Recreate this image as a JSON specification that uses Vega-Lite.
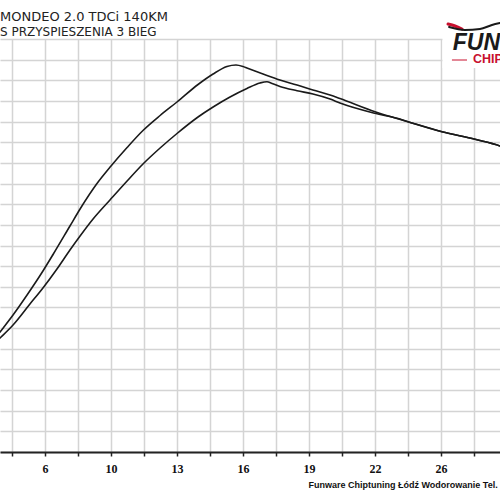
{
  "$schema": "https://vega.github.io/schema/vega-lite/v6.json",
  "width": 500,
  "height": 413,
  "autosize": {"type": "none"},
  "padding": {"left": 0, "top": 39, "right": 0, "bottom": 48},
  "background": "white",
  "config": {"view": {"stroke": null}},
  "title": {
    "text": "MONDEO 2.0 TDCi 140KM",
    "subtitle": "S PRZYSPIESZENIA 3 BIEG",
    "anchor": "start",
    "frame": "group",
    "offset": -20,
    "font": "DejaVu Sans",
    "fontSize": 13,
    "fontWeight": "normal",
    "color": "#222222",
    "subtitleFont": "DejaVu Sans",
    "subtitleFontSize": 12,
    "subtitleColor": "#222222",
    "subtitlePadding": 3
  },
  "datasets": {
    "curves": [
      {"run": "A", "speed": 4.07, "value": 56.17},
      {"run": "A", "speed": 4.22, "value": 58.11},
      {"run": "A", "speed": 4.85, "value": 66.34},
      {"run": "A", "speed": 5.53, "value": 76.03},
      {"run": "A", "speed": 6.30, "value": 87.65},
      {"run": "A", "speed": 6.79, "value": 95.64},
      {"run": "A", "speed": 7.61, "value": 109.44},
      {"run": "A", "speed": 8.10, "value": 117.68},
      {"run": "A", "speed": 8.92, "value": 130.02},
      {"run": "A", "speed": 9.60, "value": 138.50},
      {"run": "A", "speed": 10.38, "value": 147.46},
      {"run": "A", "speed": 11.15, "value": 155.69},
      {"run": "A", "speed": 11.98, "value": 162.95},
      {"run": "A", "speed": 12.80, "value": 169.49},
      {"run": "A", "speed": 13.82, "value": 177.97},
      {"run": "A", "speed": 14.55, "value": 183.05},
      {"run": "A", "speed": 15.22, "value": 186.68},
      {"run": "A", "speed": 15.66, "value": 187.41},
      {"run": "A", "speed": 16.00, "value": 186.68},
      {"run": "A", "speed": 16.19, "value": 185.96},
      {"run": "A", "speed": 16.97, "value": 183.05},
      {"run": "A", "speed": 17.79, "value": 180.14},
      {"run": "A", "speed": 18.62, "value": 177.72},
      {"run": "A", "speed": 19.39, "value": 175.30},
      {"run": "A", "speed": 20.22, "value": 172.88},
      {"run": "A", "speed": 20.70, "value": 171.19},
      {"run": "A", "speed": 22.40, "value": 164.79},
      {"run": "A", "speed": 24.00, "value": 159.95},
      {"run": "A", "speed": 25.65, "value": 155.11},
      {"run": "A", "speed": 27.25, "value": 151.43},
      {"run": "A", "speed": 28.46, "value": 148.18},
      {"run": "A", "speed": 28.70, "value": 147.20},
      {"run": "B", "speed": 4.07, "value": 53.75},
      {"run": "B", "speed": 4.22, "value": 55.21},
      {"run": "B", "speed": 4.85, "value": 61.50},
      {"run": "B", "speed": 5.67, "value": 71.67},
      {"run": "B", "speed": 6.30, "value": 79.42},
      {"run": "B", "speed": 6.98, "value": 88.62},
      {"run": "B", "speed": 7.61, "value": 97.82},
      {"run": "B", "speed": 8.10, "value": 104.60},
      {"run": "B", "speed": 8.73, "value": 112.83},
      {"run": "B", "speed": 9.55, "value": 122.03},
      {"run": "B", "speed": 10.38, "value": 131.23},
      {"run": "B", "speed": 11.15, "value": 139.47},
      {"run": "B", "speed": 11.98, "value": 147.21},
      {"run": "B", "speed": 12.80, "value": 154.24},
      {"run": "B", "speed": 13.82, "value": 162.23},
      {"run": "B", "speed": 14.55, "value": 167.07},
      {"run": "B", "speed": 15.37, "value": 171.91},
      {"run": "B", "speed": 16.19, "value": 176.03},
      {"run": "B", "speed": 16.82, "value": 178.69},
      {"run": "B", "speed": 17.16, "value": 179.32},
      {"run": "B", "speed": 17.41, "value": 178.45},
      {"run": "B", "speed": 17.79, "value": 177.00},
      {"run": "B", "speed": 18.62, "value": 174.96},
      {"run": "B", "speed": 19.39, "value": 173.37},
      {"run": "B", "speed": 20.22, "value": 170.94},
      {"run": "B", "speed": 20.70, "value": 169.01},
      {"run": "B", "speed": 22.40, "value": 164.02},
      {"run": "B", "speed": 23.47, "value": 161.60},
      {"run": "B", "speed": 24.00, "value": 159.95},
      {"run": "B", "speed": 25.65, "value": 155.11},
      {"run": "B", "speed": 27.25, "value": 151.43},
      {"run": "B", "speed": 28.46, "value": 148.18},
      {"run": "B", "speed": 28.70, "value": 147.20}
    ],
    "swoosh": [
      {"part": "red", "speed": 25.94, "value": 207.26},
      {"part": "red", "speed": 26.28, "value": 206.29},
      {"part": "red", "speed": 26.62, "value": 204.84},
      {"part": "black", "speed": 25.99, "value": 205.81},
      {"part": "black", "speed": 26.76, "value": 204.36},
      {"part": "black", "speed": 27.49, "value": 204.84},
      {"part": "black", "speed": 28.07, "value": 206.78},
      {"part": "black", "speed": 28.46, "value": 207.75}
    ]
  },
  "layer": [
    {
      "data": {"name": "curves"},
      "mark": {"type": "line", "interpolate": "monotone", "clip": true, "strokeWidth": 1.6, "color": "#1a1a1a"},
      "encoding": {
        "x": {
          "field": "speed",
          "type": "quantitative",
          "scale": {"domain": [4.218, 28.46], "nice": false, "zero": false},
          "axis": {
            "values": [4.8, 6.4, 8.0, 9.6, 11.2, 12.8, 14.4, 16.0, 17.6, 19.2, 20.8, 22.4, 24.0, 25.6, 27.2],
            "tickCount": 50,
            "grid": true,
            "gridColor": "#d4d4d4",
            "gridWidth": 1.5,
            "domainColor": "#222222",
            "domainWidth": 2,
            "tickColor": "#222222",
            "tickSize": 4,
            "tickWidth": 1.5,
            "labelExpr": "abs((datum.value-6.4)/3.2 - round((datum.value-6.4)/3.2)) < 0.01 ? format(datum.value, '.0f') : ''",
            "labelFont": "Liberation Serif",
            "labelFontWeight": "bold",
            "labelFontSize": 12,
            "labelColor": "#111111",
            "labelPadding": 7,
            "labelDx": 3,
            "labelOverlap": false,
            "labelFlush": false,
            "labelBound": false,
            "title": "Funware Chiptuning Łódź Wodorowanie Tel.",
            "titleX": 308,
            "titleY": 35,
            "titleAlign": "left",
            "titleBaseline": "alphabetic",
            "titleFont": "Liberation Sans",
            "titleFontSize": 9,
            "titleFontWeight": "bold",
            "titleColor": "#111111"
          }
        },
        "y": {
          "field": "value",
          "type": "quantitative",
          "scale": {"domain": [0, 200], "nice": false, "zero": false},
          "axis": {
            "values": [0, 10, 20, 30, 40, 50, 60, 70, 80, 90, 100, 110, 120, 130, 140, 150, 160, 170, 180, 190, 200],
            "tickCount": 50,
            "grid": true,
            "gridColor": "#d4d4d4",
            "gridWidth": 1.5,
            "labels": false,
            "ticks": false,
            "domain": false,
            "title": null
          }
        },
        "detail": {"field": "run", "type": "nominal"}
      }
    },
    {
      "data": {"values": [{}]},
      "mark": {"type": "rect", "fill": "white"},
      "encoding": {
        "x": {"datum": 25.67},
        "x2": {"datum": 29.2},
        "y": {"datum": 185.96},
        "y2": {"datum": 201.5}
      }
    },
    {
      "data": {"name": "swoosh"},
      "mark": {"type": "line", "interpolate": "monotone", "strokeCap": "round"},
      "encoding": {
        "x": {"field": "speed", "type": "quantitative"},
        "y": {"field": "value", "type": "quantitative"},
        "detail": {"field": "part", "type": "nominal"},
        "color": {"field": "part", "type": "nominal", "scale": {"domain": ["red", "black"], "range": ["#c8102e", "#1a1a1a"]}, "legend": null},
        "strokeWidth": {"field": "part", "type": "nominal", "scale": {"domain": ["red", "black"], "range": [3, 2]}, "legend": null}
      }
    },
    {
      "data": {"values": [{}]},
      "mark": {"type": "rule", "color": "#c8102e", "strokeWidth": 1},
      "encoding": {
        "x": {"datum": 26.13},
        "x2": {"datum": 26.86},
        "y": {"datum": 189.83}
      }
    },
    {
      "data": {"values": [{}]},
      "mark": {"type": "text", "text": "FUNWARE", "align": "left", "baseline": "alphabetic", "font": "Liberation Sans", "fontSize": 23, "fontWeight": "bold", "fontStyle": "italic", "color": "#1a1a1a"},
      "encoding": {
        "x": {"datum": 26.17},
        "y": {"datum": 194.67}
      }
    },
    {
      "data": {"values": [{}]},
      "mark": {"type": "text", "text": "CHIPTUNING", "align": "left", "baseline": "alphabetic", "font": "Liberation Sans", "fontSize": 12.5, "fontWeight": "bold", "color": "#c8102e"},
      "encoding": {
        "x": {"datum": 27.15},
        "y": {"datum": 188.14}
      }
    }
  ]
}
